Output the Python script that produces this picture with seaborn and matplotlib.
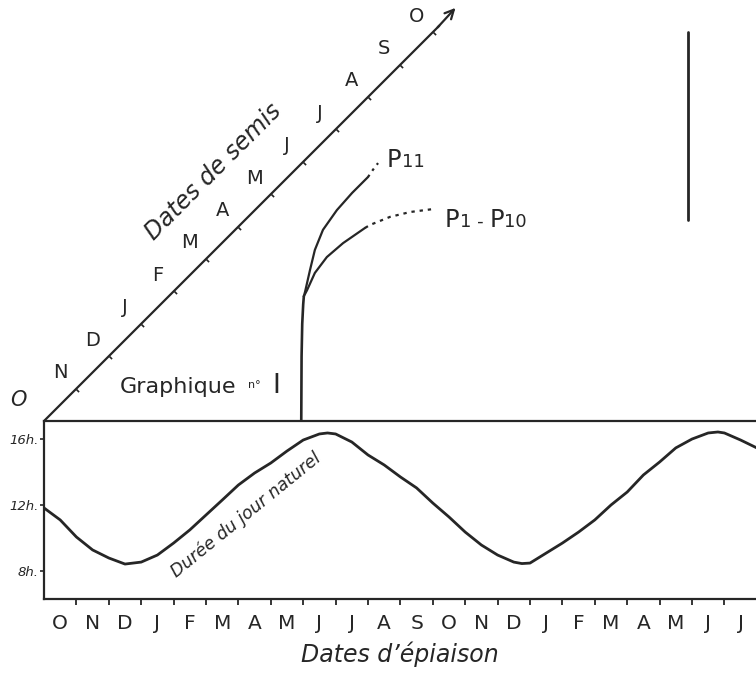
import matplotlib
matplotlib.use("Agg")
import matplotlib.pyplot as plt
import seaborn as sns

# ---------------- data ----------------
heading_months = ["O", "N", "D", "J", "F", "M", "A", "M", "J", "J", "A", "S",
                  "O", "N", "D", "J", "F", "M", "A", "M", "J", "J"]
sowing_months = ["N", "D", "J", "F", "M", "A", "M", "J", "J", "A", "S", "O"]
hour_ticks = [8, 12, 16]
hour_labels = ["8h.", "12h.", "16h."]

# natural day length (hours) vs heading date (months from 1 October)
day_month = [0, 0.5, 1, 1.5, 2, 2.5, 3, 3.5, 4, 4.5, 5, 5.5, 6, 6.5, 7, 7.5,
             8, 8.5, 8.75, 9, 9.5, 10, 10.5, 11, 11.5, 12, 12.5, 13, 13.5, 14,
             14.5, 14.75, 15, 15.5, 16, 16.5, 17, 17.5, 18, 18.5, 19, 19.5,
             20, 20.5, 20.8, 21, 21.5, 22]
day_hours = [11.82, 11.09, 10.05, 9.26, 8.77, 8.40, 8.52, 8.95, 9.68, 10.48,
             11.39, 12.30, 13.22, 13.95, 14.56, 15.29, 15.96, 16.33, 16.39, 16.33,
             15.84, 15.05, 14.44, 13.71, 13.04, 12.12, 11.27, 10.35, 9.56, 8.95,
             8.52, 8.43, 8.46, 9.07, 9.68, 10.35, 11.09, 12.0, 12.79, 13.83,
             14.62, 15.48, 16.02, 16.39, 16.45, 16.39, 15.96, 15.48]

# heading date (x, months) vs sowing date (y, months) in the upper graph
stem_x = [7.94, 7.95, 7.97, 8.00, 8.02]
stem_y = [0.0, 2.0, 3.0, 3.6, 3.85]
p11_x = [8.02, 8.06, 8.21, 8.36, 8.61, 9.04, 9.51, 10.0]
p11_y = [3.85, 4.00, 4.66, 5.28, 5.90, 6.51, 7.04, 7.53]
p11_dot_x = [10.0, 10.15, 10.31]
p11_dot_y = [7.53, 7.75, 7.96]
p110_x = [8.02, 8.12, 8.36, 8.73, 9.23, 9.91]
p110_y = [3.85, 4.04, 4.57, 5.06, 5.49, 5.96]
p110_dot_x = [9.91, 10.06, 10.68, 11.30, 12.0]
p110_dot_y = [5.96, 6.05, 6.30, 6.45, 6.54]
sowing_axis = [0, 12.2]
marker_x = [19.88, 19.88]
marker_y = [6.2, 12.0]

# ---------------- style ----------------
sns.set_style("white")
plt.rcParams['font.family'] = ['DejaVu Sans']
plt.rcParams['mathtext.fontset'] = 'dejavusans'
INK = "#262626"
LW = 1.6

W, H = 756, 675
PX = 32.4          # pixels per month
X0, YB = 44, 421   # origin of the graph (pixels)

fig = plt.figure(figsize=(W / 100, H / 100), dpi=100)
ax_low = fig.add_axes([X0 / W, (H - 599) / H, (W - X0) / W, (599 - YB) / H])
ax_up = fig.add_axes([X0 / W, (H - YB) / H, (W - X0) / W, YB / H])

# ---------------- lower panel: day length ----------------
sns.lineplot(x=day_month, y=day_hours, ax=ax_low, color=INK, lw=LW + 0.4,
             sort=False, estimator=None)
ax_low.set_xlim(0, (W - X0) / PX)
ax_low.set_ylim(6.27, 17.12)
for side in ["left", "top", "bottom"]:
    ax_low.spines[side].set_visible(True)
    ax_low.spines[side].set_color(INK)
    ax_low.spines[side].set_linewidth(LW)
ax_low.spines["right"].set_visible(False)

ax_low.set_xticks(list(range(1, len(heading_months))))
ax_low.set_xticklabels([])
ax_low.set_xticks([k + 0.5 for k in range(len(heading_months))], minor=True)
ax_low.set_xticklabels(heading_months, minor=True)
ax_low.tick_params(axis="x", which="major", length=4, width=1.3, color=INK,
                   direction="out", bottom=True)
ax_low.tick_params(axis="x", which="minor", length=0, pad=11, labelsize=14.5,
                   labelcolor=INK, bottom=True)
ax_low.set_yticks(hour_ticks)
ax_low.set_yticklabels(hour_labels)
ax_low.tick_params(axis="y", length=3, width=1.2, color=INK, pad=1,
                   labelsize=9.5, labelcolor=INK, left=True)
for lbl in ax_low.get_yticklabels():
    lbl.set_style("italic")
ax_low.set_xlabel("Dates d\u2019épiaison", fontsize=17, style="italic",
                  color=INK, labelpad=6)
ax_low.set_ylabel("")
ax_low.text(6.23, 11.4, "Durée du jour naturel", rotation=39,
            rotation_mode="anchor", ha="center", va="center", fontsize=12.5,
            style="italic", color=INK)

# ---------------- upper panel: sowing / heading ----------------
ax_up.set_xlim(0, (W - X0) / PX)
ax_up.set_ylim(0, YB / PX)
ax_up.set_axis_off()

sns.lineplot(x=sowing_axis, y=sowing_axis, ax=ax_up, color=INK, lw=LW,
             sort=False, estimator=None)
ax_up.annotate("", xy=(12.7, 12.75),
               xytext=(sowing_axis[1] - 0.05, sowing_axis[1] - 0.05),
               arrowprops=dict(arrowstyle="->", color=INK, lw=LW,
                               mutation_scale=16, shrinkA=0, shrinkB=0))
s_pos = list(range(1, len(sowing_months) + 1))
sns.scatterplot(x=s_pos, y=s_pos, ax=ax_up, marker=[(0, 0), (1, -1)], s=14,
                color=INK, linewidth=1.2, edgecolor=INK)
for s, m in zip(s_pos, sowing_months):
    ax_up.text(s - 0.5, s + 0.5, m, ha="center", va="center", fontsize=14,
               color=INK)
ax_up.text(-0.8, 0.65, "O", ha="center", va="center", fontsize=15,
           style="italic", color=INK)
ax_up.text(5.22, 7.69, "Dates de semis", rotation=45, rotation_mode="anchor",
           ha="center", va="center", fontsize=17, style="italic", color=INK)

sns.lineplot(x=stem_x, y=stem_y, ax=ax_up, color=INK, lw=LW + 0.3,
             sort=False, estimator=None)
sns.lineplot(x=p11_x, y=p11_y, ax=ax_up, color=INK, lw=LW,
             sort=False, estimator=None)
sns.lineplot(x=p11_dot_x, y=p11_dot_y, ax=ax_up, color=INK, lw=LW,
             linestyle=(0, (1.2, 2.2)), sort=False, estimator=None)
sns.lineplot(x=p110_x, y=p110_y, ax=ax_up, color=INK, lw=LW,
             sort=False, estimator=None)
sns.lineplot(x=p110_dot_x, y=p110_dot_y, ax=ax_up, color=INK, lw=LW,
             linestyle=(0, (1.5, 2.2)), sort=False, estimator=None)


def label_parts(x, y, parts):
    """Write consecutive pieces of a label on one baseline."""
    off = 0.0
    for txt, size, adv in parts:
        ax_up.annotate(txt, xy=(x, y), xytext=(off, 0), textcoords="offset points",
                       ha="left", va="baseline", fontsize=size, color=INK)
        off += adv * size


# advance widths in em (DejaVu Sans): P 0.603, digit 0.636, space 0.318, hyphen 0.361
label_parts(10.59, 7.85, [("P", 17.5, 0.603), ("11", 13, 1.272)])
label_parts(12.38, 5.98, [("P", 17.5, 0.603), ("1 - ", 13, 1.633),
                          ("P", 17.5, 0.603), ("10", 13, 1.272)])

sns.lineplot(x=marker_x, y=marker_y, ax=ax_up, color=INK, lw=LW + 0.4,
             sort=False, estimator=None)

ax_up.text(2.35, 0.86, "Graphique", ha="left", va="baseline", fontsize=16,
           color=INK)
ax_up.text(6.30, 1.02, "n°", ha="left", va="baseline", fontsize=8, color=INK)
ax_up.text(7.04, 0.86, "I", ha="left", va="baseline", fontsize=19, color=INK)

fig.savefig("out.png", dpi=100, facecolor="white")
